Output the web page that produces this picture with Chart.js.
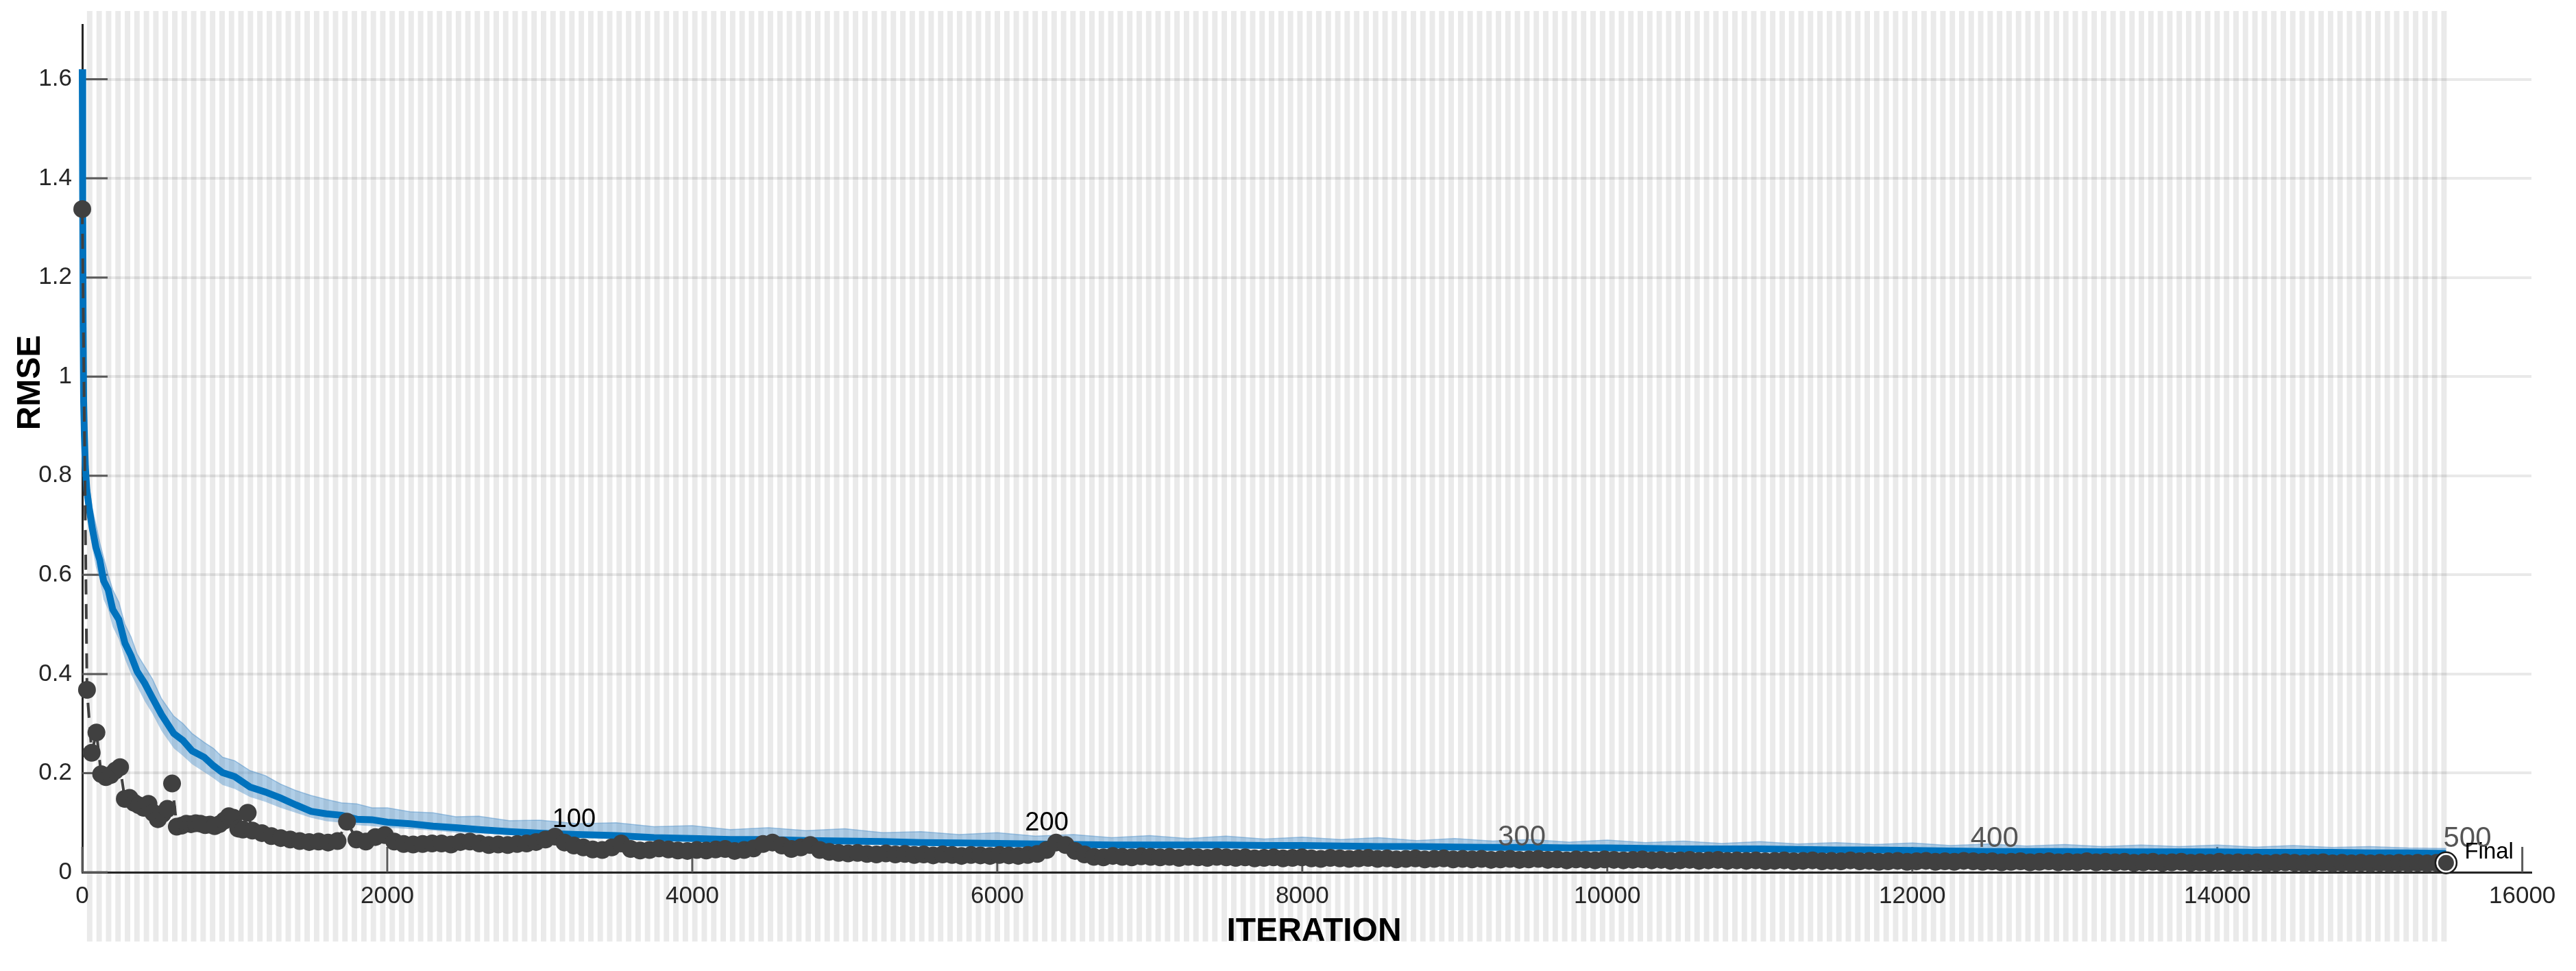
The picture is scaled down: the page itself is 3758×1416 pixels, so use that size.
<!DOCTYPE html>
<html lang="en">
<head>
    <meta charset="UTF-8">
    <title>RMSE vs Iteration</title>
    <style>
        html, body {
            margin: 0;
            padding: 0;
            background: #fff;
            overflow: hidden;
        }
        #wrap {
            position: relative;
            width: 3758px;
            height: 1416px;
        }
    </style>
</head>
<body>
    <div id="wrap">
        <canvas id="rmseChart"></canvas>
    </div>

    <script src="https://cdn.jsdelivr.net/npm/chart.js"></script>
    <script>
// ---- data ----
const numEpochs = 500;
const itersPerEpoch = 31;

const xTicks = [0, 2000, 4000, 6000, 8000, 10000, 12000, 14000, 16000];
const xTickLabels = ['0', '2000', '4000', '6000', '8000', '10000', '12000', '14000', '16000'];
const yTicks = [0, 0.2, 0.4, 0.6, 0.8, 1.0, 1.2, 1.4, 1.6];
const yTickLabels = ['0', '0.2', '0.4', '0.6', '0.8', '1', '1.2', '1.4', '1.6'];

// training RMSE (smoothed, dark blue) and raw spread (light blue)
const trainIter = [
    0, 3, 6, 9, 14, 20, 30, 45, 65, 90, 115, 140, 170, 200, 240, 280, 320, 360, 410, 460, 520,
    600, 660, 720, 800, 860, 920, 1000, 1100, 1200, 1300, 1400, 1500, 1600, 1700, 1800, 1900, 2000,
    2150, 2300, 2450, 2600, 2800,
    3000, 3250, 3500, 3750, 4000, 4250, 4500, 4750, 5000, 5250, 5500, 5750, 6000, 6250, 6500, 6750,
    7000, 7250, 7500, 7750, 8000, 8250, 8500, 8750, 9000, 9250, 9500, 9750, 10000, 10250, 10500, 10750,
    11000, 11250, 11500, 11750, 12000, 12250, 12500, 12750, 13000, 13250, 13500, 13750, 14000, 14250,
    14500, 14750, 15000, 15250, 15500
];
const trainSmooth = [
    1.62, 1.35, 1.10, 0.95, 0.88, 0.82, 0.77, 0.735, 0.695, 0.655, 0.63, 0.588, 0.57, 0.53, 0.51, 0.462, 0.437, 0.405, 0.381, 0.352, 0.318,
    0.28, 0.266, 0.245, 0.232, 0.215, 0.201, 0.193, 0.172, 0.162, 0.15, 0.136, 0.123, 0.118, 0.115, 0.107, 0.106, 0.101,
    0.098, 0.093, 0.090, 0.086, 0.082,
    0.079, 0.076, 0.074, 0.070, 0.068, 0.066, 0.066, 0.064, 0.063, 0.062, 0.060, 0.059, 0.058, 0.057, 0.056, 0.055,
    0.055, 0.055, 0.055, 0.054, 0.054, 0.053, 0.052, 0.052, 0.051, 0.050, 0.050, 0.049, 0.049, 0.048, 0.047, 0.047,
    0.047, 0.046, 0.045, 0.045, 0.044, 0.043, 0.042, 0.042, 0.042, 0.041, 0.041, 0.041, 0.041, 0.040,
    0.040, 0.040, 0.039, 0.039, 0.038
];
const rawHigh = [
    1.62, 1.42, 1.20, 1.03, 0.94, 0.87, 0.82, 0.78, 0.735, 0.70, 0.665, 0.635, 0.60, 0.57, 0.545, 0.50, 0.475, 0.44, 0.415, 0.39, 0.35,
    0.315, 0.30, 0.28, 0.262, 0.25, 0.232, 0.225, 0.205, 0.195, 0.178, 0.165, 0.155, 0.147, 0.14, 0.138, 0.13, 0.13,
    0.122, 0.12, 0.112, 0.113, 0.104,
    0.105, 0.098, 0.100, 0.092, 0.094, 0.086, 0.090, 0.084, 0.088, 0.080, 0.082, 0.076, 0.080, 0.073, 0.076, 0.070,
    0.074, 0.068, 0.073, 0.067, 0.071, 0.066, 0.070, 0.064, 0.068, 0.063, 0.066, 0.061, 0.065, 0.060, 0.063, 0.058,
    0.062, 0.057, 0.060, 0.056, 0.059, 0.054, 0.057, 0.053, 0.056, 0.052, 0.055, 0.052, 0.055, 0.051,
    0.054, 0.050, 0.052, 0.049, 0.048
];
const rawLow = [
    1.60, 1.30, 1.04, 0.90, 0.84, 0.78, 0.73, 0.695, 0.655, 0.615, 0.59, 0.55, 0.53, 0.495, 0.47, 0.43, 0.40, 0.375, 0.345, 0.32, 0.285,
    0.25, 0.235, 0.218, 0.202, 0.19, 0.176, 0.168, 0.152, 0.142, 0.13, 0.12, 0.11, 0.103, 0.10, 0.095, 0.093, 0.09,
    0.087, 0.084, 0.080, 0.078, 0.075,
    0.072, 0.070, 0.068, 0.064, 0.062, 0.060, 0.060, 0.058, 0.057, 0.056, 0.054, 0.053, 0.052, 0.051, 0.050, 0.049,
    0.049, 0.049, 0.049, 0.048, 0.048, 0.047, 0.046, 0.046, 0.045, 0.044, 0.044, 0.043, 0.043, 0.042, 0.041, 0.041,
    0.041, 0.040, 0.039, 0.039, 0.038, 0.037, 0.036, 0.036, 0.036, 0.035, 0.035, 0.035, 0.035, 0.034,
    0.034, 0.034, 0.033, 0.033, 0.032
];

// validation RMSE (dark grey dots, dashed line)
// every epoch (31 iterations) up to 1116, then every 2 epochs (62 iterations) from 1178 to 15500
const valEveryEarly = 31;
const valLateStart = 1178;
const valEveryLate = 62;
const valRmseEarly = [
    1.338, 0.368, 0.241, 0.282, 0.198, 0.192, 0.196, 0.205, 0.212, 0.148,
    0.150, 0.140, 0.135, 0.130, 0.138, 0.120, 0.107, 0.118, 0.128, 0.179,
    0.092, 0.094, 0.098, 0.097, 0.099, 0.098, 0.095, 0.096, 0.093, 0.097,
    0.104, 0.113, 0.110, 0.088, 0.086, 0.120, 0.084
];
const valRmseLate = [
    0.079, 0.073, 0.069, 0.066, 0.063, 0.061, 0.062, 0.060, 0.063, 0.102, 0.066, 0.062, 0.071, 0.075, 0.062, 0.057,
    0.056, 0.057, 0.058, 0.058, 0.056, 0.061, 0.062, 0.058, 0.055, 0.056,
    0.055, 0.057, 0.058, 0.061, 0.066, 0.072, 0.060, 0.054, 0.050, 0.046,
    0.045, 0.050, 0.058, 0.047, 0.044, 0.045, 0.048, 0.046, 0.044, 0.043,
    0.045, 0.044, 0.046, 0.047, 0.043, 0.045, 0.048, 0.057, 0.060, 0.054,
    0.047, 0.050, 0.055, 0.045, 0.041, 0.039, 0.038, 0.039, 0.037, 0.036,
    0.038, 0.036, 0.037, 0.035, 0.036, 0.034, 0.036, 0.035, 0.033, 0.035,
    0.034, 0.033, 0.035, 0.034, 0.033, 0.035, 0.037, 0.045, 0.060, 0.055,
    0.043, 0.036, 0.031, 0.030, 0.033, 0.031, 0.030, 0.032, 0.031, 0.030,
    0.031, 0.029, 0.031, 0.030, 0.029, 0.031, 0.030, 0.029, 0.030, 0.028,
    0.029, 0.030, 0.028, 0.029, 0.030, 0.028, 0.027, 0.029, 0.028, 0.027,
    0.028, 0.029, 0.027, 0.028, 0.026, 0.027, 0.028, 0.026, 0.027, 0.028,
    0.026, 0.027, 0.026, 0.027, 0.025, 0.026, 0.027, 0.025, 0.026, 0.027,
    0.025, 0.026, 0.024, 0.026, 0.025, 0.024, 0.026, 0.025, 0.024, 0.025,
    0.026, 0.024, 0.025, 0.023, 0.024, 0.025, 0.023, 0.024, 0.025, 0.023,
    0.024, 0.023, 0.024, 0.022, 0.023, 0.024, 0.022, 0.023, 0.024, 0.022,
    0.023, 0.022, 0.024, 0.022, 0.023, 0.021, 0.022, 0.023, 0.021, 0.022,
    0.023, 0.021, 0.022, 0.021, 0.023, 0.022, 0.021, 0.022, 0.020, 0.021,
    0.022, 0.020, 0.021, 0.022, 0.020, 0.021, 0.020, 0.022, 0.020, 0.021,
    0.020, 0.021, 0.019, 0.020, 0.021, 0.019, 0.020, 0.021, 0.019, 0.020,
    0.019, 0.021, 0.019, 0.020, 0.019, 0.020, 0.018, 0.019, 0.020, 0.019,
    0.018, 0.019, 0.020, 0.018, 0.019, 0.018, 0.019, 0.018, 0.019, 0.018,
    0.019, 0.018, 0.019, 0.018, 0.019, 0.019
];

const finalIter = 15500;
const finalRmse = 0.019;
const finalLabel = 'Final';
const finalLabelRmse = 0.0275;

const epochLabels = ['100', '200', '300', '400', '500'];
const epochLabelIter = [3100, 6200, 9300, 12400, 15500];
const epochLabelRmse = [0.092, 0.085, 0.054, 0.051, 0.051];

const xTitle = 'ITERATION';
const yTitle = 'RMSE';

// ---- drawing ----
const FONT = '"Liberation Sans", Arial, sans-serif';
const toPoints = (xs, ys) => xs.map((v, i) => ({ x: v, y: ys[i] }));

const valPoints = valRmseEarly.map((v, i) => ({ x: i * valEveryEarly, y: v }))
    .concat(valRmseLate.map((v, i) => ({ x: valLateStart + i * valEveryLate, y: v })));

// alternating epoch shading behind everything
const epochStripes = {
    id: 'epochStripes',
    beforeDraw(chart) {
        const { ctx, scales: { x } } = chart;
        ctx.save();
        ctx.fillStyle = '#eaeaea';
        for (let e = 1; e < numEpochs; e += 2) {
            const x0 = x.getPixelForValue(e * itersPerEpoch);
            const x1 = x.getPixelForValue((e + 1) * itersPerEpoch);
            ctx.fillRect(x0, 16, x1 - x0 + 1, 1373 - 16);
        }
        ctx.restore();
    }
};

// matlab style ticks pointing into the plot
const innerTicks = {
    id: 'innerTicks',
    beforeDatasetsDraw(chart) {
        const { ctx, chartArea: a, scales: { x, y } } = chart;
        ctx.save();
        ctx.lineWidth = 3;
        ctx.strokeStyle = '#5a5a5a';
        ctx.beginPath();
        y.ticks.forEach(t => {
            const py = y.getPixelForValue(t.value);
            ctx.moveTo(a.left, py);
            ctx.lineTo(a.left + 37, py);
        });
        x.ticks.forEach(t => {
            const px = x.getPixelForValue(t.value);
            ctx.moveTo(px, a.bottom);
            ctx.lineTo(px, a.bottom - 37);
        });
        ctx.stroke();
        ctx.restore();
    }
};

// epoch numbers, "Final" and axis titles
const textLayer = {
    id: 'textLayer',
    afterDatasetsDraw(chart) {
        const { ctx, scales: { x, y } } = chart;
        ctx.save();
        ctx.textAlign = 'left';
        ctx.textBaseline = 'alphabetic';
        epochLabels.forEach((txt, i) => {
            const big = i >= 2;
            ctx.font = (big ? 42 : 38) + 'px ' + FONT;
            ctx.fillStyle = big ? '#555555' : '#000000';
            ctx.fillText(txt, x.getPixelForValue(epochLabelIter[i]) - 4, y.getPixelForValue(epochLabelRmse[i]));
        });

        ctx.font = '33px ' + FONT;
        ctx.fillStyle = '#000000';
        ctx.fillText(finalLabel, x.getPixelForValue(finalIter) + 27, y.getPixelForValue(finalLabelRmse));

        ctx.font = 'bold 48px ' + FONT;
        ctx.textAlign = 'center';
        ctx.fillText(xTitle, 1917, 1372);

        ctx.translate(58, 558);
        ctx.rotate(-Math.PI / 2);
        ctx.fillText(yTitle, 0, 0);
        ctx.restore();
    }
};

const tickFont = { family: FONT, size: 35 };

new Chart(document.getElementById('rmseChart'), {
    type: 'line',
    data: {
        datasets: [
            {
                label: 'raw low',
                data: toPoints(trainIter, rawLow),
                borderWidth: 0,
                pointRadius: 0,
                fill: false,
                order: 5
            },
            {
                label: 'raw high',
                data: toPoints(trainIter, rawHigh),
                borderColor: 'rgba(70, 140, 200, 0.45)',
                borderWidth: 1.5,
                backgroundColor: 'rgba(70, 140, 200, 0.42)',
                pointRadius: 0,
                fill: '-1',
                order: 4
            },
            {
                label: 'Training RMSE',
                data: toPoints(trainIter, trainSmooth),
                borderColor: '#0072BD',
                borderWidth: 10,
                pointRadius: 0,
                fill: false,
                order: 3
            },
            {
                label: 'Validation RMSE',
                data: valPoints,
                borderColor: '#404040',
                borderWidth: 4,
                borderDash: [22, 14],
                pointRadius: 13,
                pointBackgroundColor: '#404040',
                pointBorderWidth: 0,
                fill: false,
                order: 2
            },
            {
                label: 'final fill',
                data: [{ x: finalIter, y: finalRmse }],
                showLine: false,
                pointRadius: 13,
                pointBackgroundColor: '#404040',
                pointBorderColor: '#ffffff',
                pointBorderWidth: 3,
                order: 1
            },
            {
                label: 'final ring',
                data: [{ x: finalIter, y: finalRmse }],
                showLine: false,
                pointRadius: 15.5,
                pointBackgroundColor: 'rgba(0,0,0,0)',
                pointBorderColor: '#1a1a1a',
                pointBorderWidth: 2.5,
                order: 0
            }
        ]
    },
    options: {
        responsive: true,
        maintainAspectRatio: false,
        animation: false,
        events: [],
        datasets: { line: { clip: false, tension: 0 } },
        layout: { padding: { top: 30, right: 65, left: 0, bottom: 0 } },
        plugins: {
            legend: { display: false },
            tooltip: { enabled: false }
        },
        scales: {
            x: {
                type: 'linear',
                min: 0,
                max: 16060,
                afterBuildTicks: s => { s.ticks = xTicks.map(v => ({ value: v })); },
                afterFit: s => { s.height = 144; },
                grid: { display: false, drawTicks: false },
                border: { display: true, color: '#262626', width: 3 },
                ticks: {
                    font: tickFont,
                    color: '#262626',
                    padding: 14,
                    maxRotation: 0,
                    autoSkip: false,
                    callback: (v, i) => xTickLabels[i]
                }
            },
            y: {
                min: 0,
                max: 1.71,
                afterBuildTicks: s => { s.ticks = yTicks.map(v => ({ value: v })); },
                afterFit: s => { s.width = 120; },
                grid: { color: 'rgba(0, 0, 0, 0.085)', lineWidth: 4, drawTicks: false },
                border: { display: true, color: '#262626', width: 3 },
                ticks: {
                    font: tickFont,
                    color: '#262626',
                    padding: 15,
                    autoSkip: false,
                    callback: (v, i) => yTickLabels[i]
                }
            }
        }
    },
    plugins: [epochStripes, innerTicks, textLayer]
});
    </script>
</body>
</html>
